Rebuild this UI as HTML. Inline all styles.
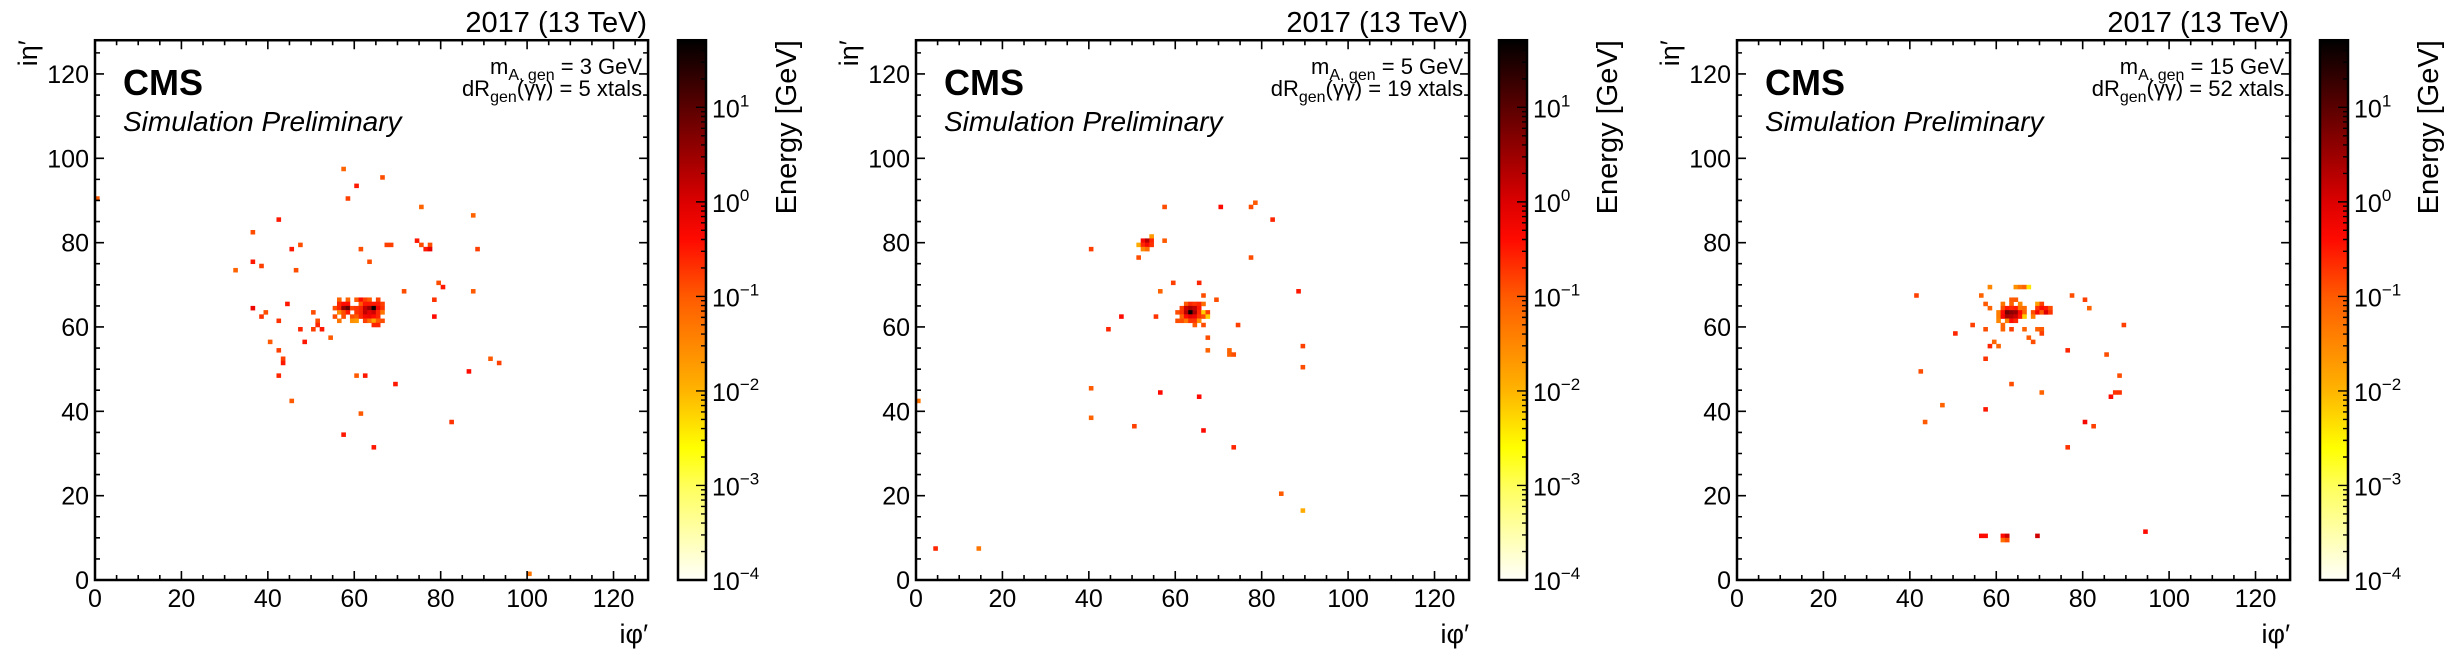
<!DOCTYPE html>
<html><head><meta charset="utf-8"><style>
html,body{margin:0;padding:0;background:#fff;}
svg{display:block;font-family:"Liberation Sans",sans-serif;}
</style></head><body>
<svg id="fig" width="2450" height="659" viewBox="0 0 2450 659" xmlns="http://www.w3.org/2000/svg"></svg>
<script>
// hits: [i_phi, i_eta, log10(Energy/GeV)]
const hits3GeV = [[57,97,-1.1],[66,95,-0.9],[60,93,-0.5],[58,90,-0.8],[75,88,-1.1],[87,86,-1.1],[42,85,-0.5],[36,82,-0.9],[47,79,-0.9],[45,78,-0.5],[61,78,-0.9],[67,79,-0.8],[68,79,-0.8],[74,80,-0.5],[75,79,-0.9],[77,79,-0.9],[76,78,-0.5],[77,78,-0.1],[88,78,-0.8],[36,75,-0.5],[38,74,-0.8],[32,73,-1.1],[46,73,-0.9],[63,75,-0.9],[79,70,-0.9],[80,69,-0.5],[71,68,-0.9],[87,68,-1.0],[78,66,-0.7],[44,65,-0.5],[36,64,-0.2],[39,63,-0.9],[38,62,-0.7],[42,61,-0.7],[50,63,-0.9],[51,61,-0.9],[51,60,-0.6],[47,59,-0.6],[50,59,-0.8],[52,59,-0.5],[54,57,-1.0],[40,56,-1.0],[48,56,-0.5],[42,54,-0.8],[43,52,-0.8],[43,51,-0.5],[42,48,-0.6],[60,48,-1.0],[62,48,-0.5],[78,62,-0.4],[69,46,-0.5],[91,52,-1.0],[93,51,-0.8],[86,49,-0.4],[45,42,-1.0],[61,39,-1.0],[82,37,-0.7],[57,34,-0.5],[64,31,-0.5],[0,90,-1.0],[100,1,-1.3],
[56,66,-1.1],[58,66,-1.1],[60,66,-1.0],[61,66,-0.4],[62,66,-0.8],[63,66,-1.0],[65,66,-0.8],
[56,65,-0.6],[57,65,-0.4],[58,65,-0.4],[61,65,-1.0],[62,65,-0.5],[63,65,-0.5],[64,65,-0.5],[65,65,-0.5],[66,65,-0.8],
[55,64,-0.9],[56,64,-0.6],[57,64,0.6],[58,64,0.9],[59,64,-0.8],[60,64,-0.7],[61,64,-0.6],[62,64,0.2],[63,64,0.5],[64,64,1.6],[65,64,-0.2],[66,64,-0.7],
[56,63,-1.5],[57,63,-0.9],[58,63,-0.5],[60,63,-0.7],[61,63,-0.6],[62,63,0.2],[63,63,-0.1],[64,63,0.1],[65,63,-0.6],[66,63,-1.3],
[55,62,-0.9],[57,62,-0.9],[59,62,-0.9],[60,62,-1.0],[61,62,-0.6],[62,62,-0.3],[63,62,-0.2],[64,62,-0.4],[65,62,-0.6],
[56,61,-1.3],[59,61,-1.6],[60,61,-1.7],[62,61,-0.8],[63,61,-1.2],[64,61,-1.8],[65,61,-1.0],[66,61,-0.9],
[64,60,-0.6],[65,60,-0.6]];
const hits5GeV = [[78,89,-1.0],[77,88,-0.9],[57,88,-0.9],[70,88,-0.4],[82,85,-0.6],[54,81,-1.7],[52,80,-0.3],[53,80,0.3],[54,80,-0.6],[51,79,-1.9],[52,79,-0.6],[53,79,-0.3],[54,79,-0.7],[52,78,-1.5],[53,78,-1.2],[57,80,-1.0],[40,78,-0.8],[51,76,-0.9],[77,76,-0.9],[59,70,-0.8],[65,70,-0.6],[56,68,-1.1],[88,68,-0.5],[66,67,-0.9],[69,66,-0.9],
[62,65,-1.0],[63,65,-0.6],[64,65,-0.7],[65,65,-0.6],[66,65,-1.2],
[61,64,-0.8],[62,64,0.1],[63,64,0.4],[64,64,0.2],[65,64,-0.5],
[60,63,-0.9],[61,63,-0.7],[62,63,0.3],[63,63,1.6],[64,63,0.4],[65,63,-0.6],[66,63,-2.2],[67,63,-0.8],
[61,62,-1.1],[62,62,-0.4],[63,62,-0.1],[64,62,-0.2],[65,62,-0.7],[66,62,-0.9],[67,62,-2.2],
[60,61,-0.9],[61,61,-0.9],[62,61,-1.3],[63,61,-0.7],[64,61,-0.7],[65,61,-1.6],
[64,60,-1.0],[66,60,-0.9],[74,60,-0.8],
[47,62,-0.4],[55,62,-0.7],[44,59,-0.6],[67,57,-0.9],[89,55,-0.8],[67,54,-1.1],[72,54,-1.1],[72,53,-1.1],[73,53,-0.9],[89,50,-0.9],[40,45,-1.0],[56,44,-0.4],[65,43,-0.4],[40,38,-1.1],[50,36,-0.8],[66,35,-0.4],[73,31,-0.6],[84,20,-1.0],[4,7,-0.6],[14,7,-1.3],[89,16,-1.9],[0,42,-1.3]];
const hits15GeV = [[58,69,-1.5],[64,69,-1.6],[65,69,-1.3],[66,69,-1.1],[67,69,-2.4],
[41,67,-0.8],[56,67,-1.1],[77,67,-0.9],
[63,66,-1.0],[64,66,-1.0],[80,66,-0.8],
[57,65,-1.0],[61,65,-1.3],[63,65,-1.1],[65,65,-1.5],[69,65,-1.8],[70,65,-0.8],
[58,64,-1.1],[61,64,-0.9],[62,64,-0.5],[63,64,-0.6],[64,64,-0.5],[65,64,-1.3],[66,64,-1.2],[69,64,-0.7],[70,64,-0.4],[71,64,-0.5],[72,64,-0.9],[81,64,-1.1],
[60,63,-1.4],[61,63,-0.4],[62,63,0.8],[63,63,0.6],[64,63,0.5],[65,63,-0.4],[66,63,-1.1],[68,63,-0.9],[69,63,-0.3],[70,63,-1.0],[71,63,0.0],[72,63,-0.7],
[60,62,-1.4],[61,62,-0.3],[62,62,0.4],[63,62,0.3],[64,62,0.1],[65,62,-0.5],[66,62,-2.2],[68,62,-1.4],
[60,61,-1.5],[62,61,-1.4],[63,61,-0.4],[64,61,-0.6],
[61,60,-1.1],[54,60,-0.8],[89,60,-0.8],
[57,59,-0.9],[61,59,-1.1],[63,59,-0.8],[66,59,-1.1],[69,59,-1.1],[70,59,-1.0],
[50,58,-0.6],[70,58,-0.8],
[67,57,-1.0],[59,56,-1.1],[68,56,-0.9],[58,55,-0.6],[60,55,-1.1],[76,54,-0.6],[85,53,-0.9],[57,52,-0.7],[42,49,-0.9],[88,48,-0.9],[63,46,-0.9],[70,44,-1.1],[87,44,-0.7],[88,44,-0.7],[86,43,-0.4],[47,41,-1.1],[57,40,-0.5],[43,37,-1.0],[80,37,-0.3],[82,36,-0.8],[76,31,-0.7],
[56,10,-0.4],[57,10,-0.4],[61,10,-0.4],[62,10,0.1],[69,10,0.1],[61,9,-1.2],[62,9,-0.9],[94,11,-0.4]];
const massLabels = ["3","5","15"];
const dRLabels = ["5","19","52"];
const axisTicks = [0,20,40,60,80,100,120];
const cbarExponents = [-4,-3,-2,-1,0,1];

const NS="http://www.w3.org/2000/svg";
const svg=document.getElementById('fig');
function mk(tag,attrs,parent){const e=document.createElementNS(NS,tag);for(const k in attrs)e.setAttribute(k,attrs[k]);(parent||svg).appendChild(e);return e;}

const LOGMIN=-4, LOGMAX=1.71;
const stops=[[-4,[255,255,250]],[-3,[255,255,90]],[-2.6,[255,255,0]],[-2,[255,180,0]],[-1,[255,90,0]],[-0.4,[255,10,0]],[0,[220,0,0]],[1,[90,0,0]],[1.71,[0,0,0]]];
function color(v){
  v=Math.max(LOGMIN,Math.min(LOGMAX,v));
  for(let i=0;i<stops.length-1;i++){const a=stops[i],b=stops[i+1];
    if(v<=b[0]){const t=(v-a[0])/(b[0]-a[0]);const c=a[1].map((x,j)=>Math.round(x+(b[1][j]-x)*t));return `rgb(${c[0]},${c[1]},${c[2]})`;}}
  return 'rgb(0,0,0)';
}
const defs=mk('defs',{});
const grad=mk('linearGradient',{id:'cmap',x1:0,y1:1,x2:0,y2:0},defs);
stops.forEach(s=>{mk('stop',{offset:((s[0]-LOGMIN)/(LOGMAX-LOGMIN)).toFixed(4),'stop-color':`rgb(${s[1].join(',')})`},grad);});

const PX0=95, PY0=580, SX=4.321, SY=4.217, PW=128*SX, PH=128*SY, STEP=821;
const datasets=[hits3GeV,hits5GeV,hits15GeV];
const names=['3gev','5gev','15gev'];

datasets.forEach((hits,p)=>{
  const ox=PX0+p*STEP;
  const xs=v=>ox+v*SX, ys=v=>PY0-v*SY;
  const g=mk('g',{});
  
  
  const cells=mk('g',{},g);
  
  
  hits.forEach(h=>{
    const r=mk('rect',{x:xs(h[0]).toFixed(2),y:(ys(h[1]+1)).toFixed(2),width:(SX+0.3).toFixed(2),height:(SY+0.3).toFixed(2),fill:color(h[2])},cells);
    
    
  });
  // frame
  const fr=mk('rect',{x:ox,y:ys(128),width:PW,height:PH,fill:'none',stroke:'#000','stroke-width':2.5},g);
  
  
  // ticks
  let d='';
  for(let v=0;v<=128;v+=5){const L=(v%20===0)?9:5;
    d+=`M${xs(v)},${PY0}v${-L}M${xs(v)},${ys(128)}v${L}`;
    d+=`M${ox},${ys(v)}h${L}M${ox+PW},${ys(v)}h${-L}`;}
  mk('path',{d:d,stroke:'#000','stroke-width':1.6,fill:'none'},g);
  axisTicks.forEach(v=>{
    const t=mk('text',{x:xs(v),y:607,'font-size':25,'text-anchor':'middle'},g);t.textContent=v;
    
    
    const u=mk('text',{x:ox-6,y:ys(v)+9,'font-size':25,'text-anchor':'end'},g);u.textContent=v;
    
    
  });
  const xt=mk('text',{x:ox+PW,y:643,'font-size':27,'text-anchor':'end'},g);xt.textContent='iφ′';
  
  
  const yt=mk('text',{x:0,y:0,'font-size':27,'text-anchor':'end',transform:`translate(${ox-58},${ys(128)}) rotate(-90)`},g);yt.textContent='iη′';
  
  
  const ti=mk('text',{x:ox+PW-1,y:32,'font-size':29,'text-anchor':'end'},g);ti.textContent='2017 (13 TeV)';
  
  
  const cms=mk('text',{x:ox+28,y:95,'font-size':36,'font-weight':'bold'},g);cms.textContent='CMS';
  
  
  const sim=mk('text',{x:ox+28,y:131,'font-size':28,'font-style':'italic'},g);sim.textContent='Simulation Preliminary';
  
  
  const m=mk('text',{x:ox+PW-6,y:74,'font-size':22,'text-anchor':'end'},g);
  m.innerHTML=`m<tspan font-size="16" dy="6">A, gen</tspan><tspan dy="-6"> = ${massLabels[p]} GeV</tspan>`;
  
  
  const dr=mk('text',{x:ox+PW-6,y:96,'font-size':22,'text-anchor':'end'},g);
  dr.innerHTML=`dR<tspan font-size="16" dy="6">gen</tspan><tspan dy="-6">(γγ) = ${dRLabels[p]} xtals</tspan>`;
  
  
  // colorbar
  const cx=ox+583, cw=28, ctop=ys(128), cbot=PY0;
  const cy=v=>cbot-(v-LOGMIN)/(LOGMAX-LOGMIN)*(cbot-ctop);
  const cb=mk('g',{},g);
  
  
  mk('rect',{x:cx,y:ctop,width:cw,height:cbot-ctop,fill:'url(#cmap)',stroke:'#000','stroke-width':2.5},cb);
  let cd='';
  for(let e=-4;e<=1;e++){for(let k=1;k<=9;k++){const v=e+Math.log10(k);if(v>LOGMAX)break;const L=k===1?10:5;cd+=`M${cx+cw},${cy(v).toFixed(2)}h${-L}`;}}
  mk('path',{d:cd,stroke:'#000','stroke-width':1.4,fill:'none'},cb);
  cbarExponents.forEach(e=>{
    const t=mk('text',{x:cx+cw+6,y:cy(e)+10,'font-size':25},cb);
    t.innerHTML=`10<tspan font-size="17" dy="-11">${e<0?'−'+(-e):e}</tspan>`;
    
    
  });
  const et=mk('text',{x:0,y:0,'font-size':29,'text-anchor':'end',transform:`translate(${cx+118},${ctop}) rotate(-90)`},cb);
  et.textContent='Energy [GeV]';
  
  
});
</script>
</body></html>
